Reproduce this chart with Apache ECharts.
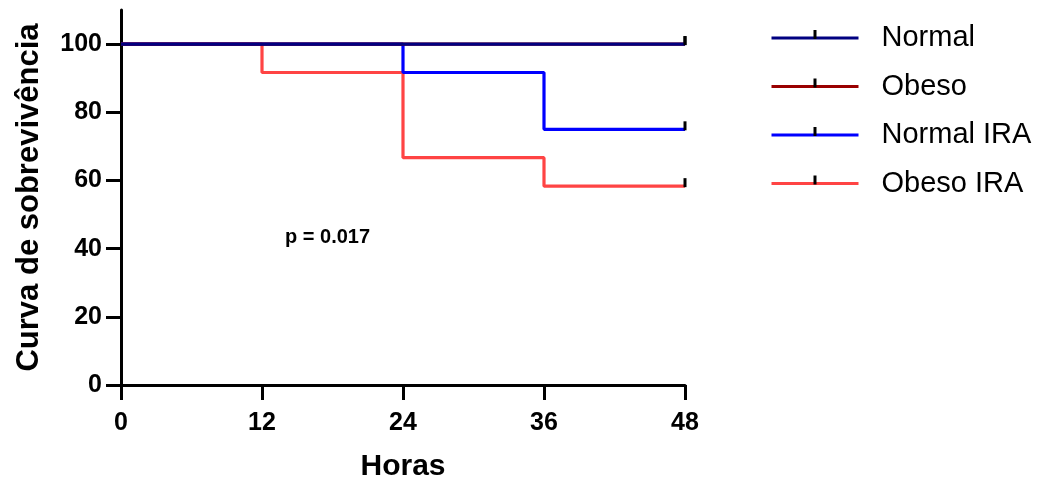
<!DOCTYPE html>
<html>
<head>
<meta charset="utf-8">
<script src="https://cdn.jsdelivr.net/npm/echarts@6/dist/echarts.min.js"></script>
<style>html,body{margin:0;padding:0;background:#fff}#c{width:1041px;height:484px}</style>
</head>
<body>
<div id="c"></div>
<script>
var seriesNames = ['Normal', 'Obeso', 'Normal IRA', 'Obeso IRA'];
var seriesColors = ['#000080', '#990000', '#0000FF', '#FF4444'];
var hours = {
  'Normal': [0, 48],
  'Obeso': [0, 48],
  'Normal IRA': [0, 24, 36, 48],
  'Obeso IRA': [0, 12, 24, 36, 48]
};
var survival = {
  'Normal': [100, 100],
  'Obeso': [100, 100],
  'Normal IRA': [100, 91.67, 75, 75],
  'Obeso IRA': [100, 91.67, 66.67, 58.33, 58.33]
};
var xTicks = [0, 12, 24, 36, 48];
var yTicks = [0, 20, 40, 60, 80, 100];
var zOrder = [5, 4, 3, 2];
var pText = 'p = 0.017';

var FONT = 'Liberation Sans, Arial, sans-serif';
var tickSym = 'path://M0,0M16,16M6.5,0h3v9h-3z';

var chart = echarts.init(document.getElementById('c'));
var series = seriesNames.map(function (name, i) {
  var xs = hours[name], ys = survival[name];
  var last = xs.length - 1;
  return {
    name: name,
    type: 'line',
    step: 'end',
    z: zOrder[i],
    data: xs.map(function (x, j) { return [x, ys[j]]; }),
    symbol: tickSym,
    symbolSize: function (v, p) { return p.dataIndex === last ? 16 : 0; },
    symbolKeepAspect: false,
    showAllSymbol: true,
    lineStyle: { color: seriesColors[i], width: 3.2 },
    itemStyle: { color: '#000', borderWidth: 0 },
    emphasis: { disabled: true },
    silent: true,
    animation: false
  };
});

chart.setOption({
  animation: false,
  textStyle: { fontFamily: FONT },
  grid: { left: 121, right: 356, top: 10, bottom: 99, containLabel: false, outerBoundsMode: 'none' },
  legend: {
    orient: 'vertical',
    left: 765,
    top: 18.5,
    itemWidth: 87,
    itemHeight: 20,
    itemGap: 19.5,
    data: seriesNames,
    selectedMode: false,
    textStyle: { fontSize: 29, color: '#000', fontFamily: FONT, padding: [0, 0, 0, 18] },
    lineStyle: { width: 3 }
  },
  xAxis: {
    type: 'value',
    min: 0, max: 48, interval: 12,
    name: 'Horas',
    nameLocation: 'middle',
    nameGap: 67,
    nameTextStyle: { fontSize: 30, fontWeight: 'bold', color: '#000', fontFamily: FONT },
    axisLine: { lineStyle: { color: '#000', width: 3 } },
    axisTick: { show: true, length: 15, lineStyle: { color: '#000', width: 3 }, customValues: xTicks },
    axisLabel: { fontSize: 25, fontWeight: 'bold', color: '#000', margin: 26, fontFamily: FONT, customValues: xTicks },
    splitLine: { show: false }
  },
  yAxis: {
    type: 'value',
    min: 0, max: 110, interval: 20,
    name: 'Curva de sobrevivência',
    nameLocation: 'middle',
    nameGap: 76,
    nameRotate: 90,
    nameTextStyle: { fontSize: 31, fontWeight: 'bold', color: '#000', fontFamily: FONT },
    axisLine: { show: true, lineStyle: { color: '#000', width: 3 } },
    axisTick: { show: true, length: 15, lineStyle: { color: '#000', width: 3 }, customValues: yTicks },
    axisLabel: { fontSize: 25, fontWeight: 'bold', color: '#000', margin: 19, fontFamily: FONT, customValues: yTicks },
    splitLine: { show: false }
  },
  graphic: [{
    type: 'text',
    left: 285,
    top: 227,
    style: { text: pText, font: 'bold 20px ' + FONT, fill: '#000' }
  }],
  series: series
});
</script>
</body>
</html>
